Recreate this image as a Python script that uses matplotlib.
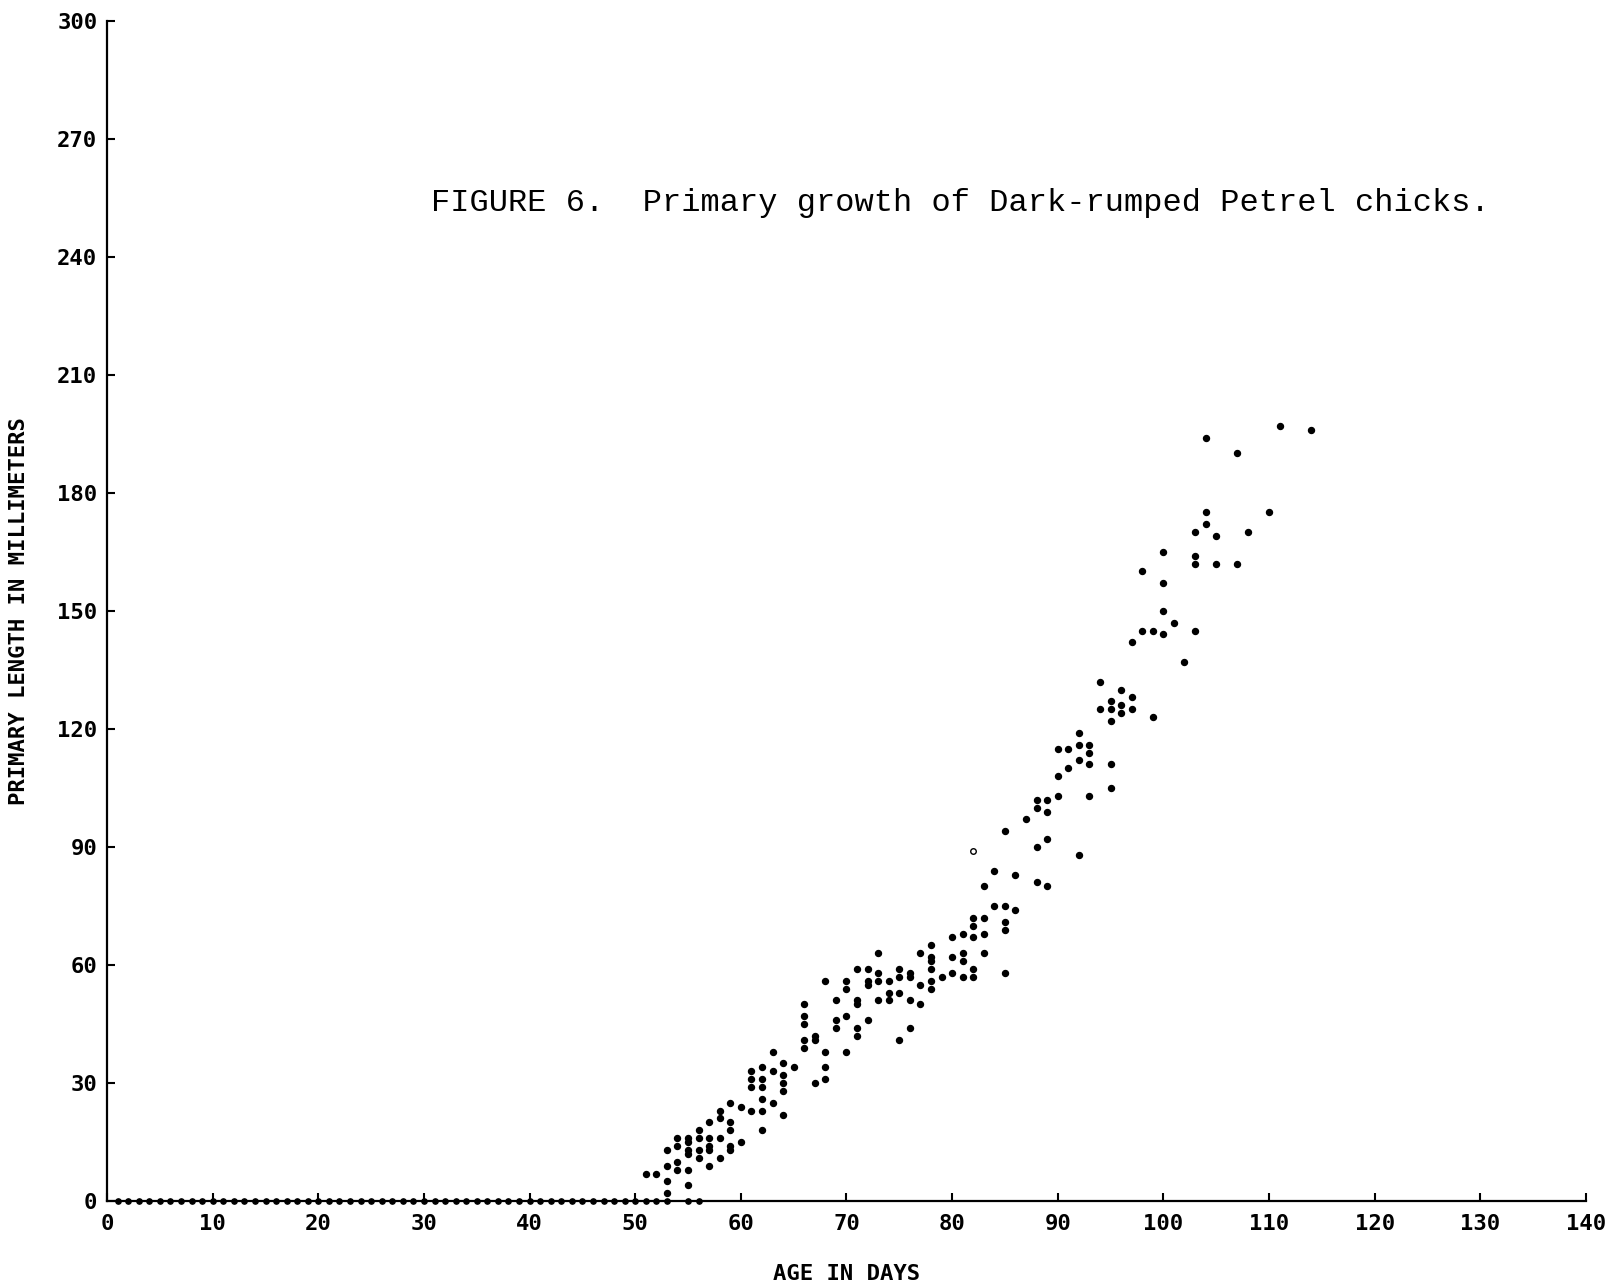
import matplotlib
matplotlib.use('Agg')

import matplotlib.pyplot as plt

# age in days -> primary length (mm) for each chick measured
growth = {
    51: [7], 52: [7],
    53: [13, 9, 5, 2],
    54: [16, 14, 10, 8],
    55: [16, 15, 13, 12, 8, 4],
    56: [18, 16, 13, 11],
    57: [20, 16, 14, 13, 9],
    58: [23, 21, 16, 11],
    59: [25, 20, 18, 14, 13],
    60: [24, 15],
    61: [33, 31, 29, 23],
    62: [34, 31, 29, 26, 23, 18],
    63: [38, 33, 25],
    64: [35, 32, 30, 28, 22],
    65: [34],
    66: [50, 47, 45, 41, 39],
    67: [42, 41, 30],
    68: [56, 38, 34, 31],
    69: [51, 46, 44],
    70: [56, 54, 47, 38],
    71: [59, 51, 50, 44, 42],
    72: [59, 56, 55, 46],
    73: [63, 58, 56, 51],
    74: [56, 53, 51],
    75: [59, 57, 53, 41],
    76: [58, 57, 51, 44],
    77: [63, 55, 50],
    78: [65, 62, 61, 59, 56, 54],
    79: [57],
    80: [67, 62, 58],
    81: [68, 63, 61, 57],
    82: [72, 70, 67, 59, 57],
    83: [80, 72, 68, 63],
    84: [84, 75],
    85: [94, 75, 71, 69, 58],
    86: [83, 74],
    87: [97],
    88: [102, 100, 90, 81],
    89: [102, 99, 92, 80],
    90: [115, 108, 103],
    91: [115, 110],
    92: [119, 116, 112, 88],
    93: [116, 114, 111, 103],
    94: [132, 125],
    95: [127, 125, 122, 111, 105],
    96: [130, 126, 124],
    97: [142, 128, 125],
    98: [160, 145],
    99: [145, 123],
    100: [165, 157, 150, 144],
    101: [147],
    102: [137],
    103: [170, 164, 162, 145],
    104: [194, 175, 172],
    105: [169, 162],
    107: [190, 162],
    108: [170],
    110: [175],
    111: [197],
    114: [196],
}

# chicks with no primaries yet
zero_days = list(range(1, 54)) + [55, 56]

# the one open circle on the original
open_x = [82]
open_y = [89]

ages = []
lengths = []
for d, vals in growth.items():
    for v in vals:
        ages.append(d)
        lengths.append(v)

lab_font = {'family': 'DejaVu Sans Mono', 'weight': 'bold', 'size': 16}

fig = plt.figure(figsize=(16.1, 12.86), dpi=100)
ax = fig.add_axes([0.0665, 0.066, 0.9185, 0.918])

ax.plot(ages, lengths, 'o', color='black', markersize=4.3, clip_on=False)
ax.plot(zero_days, [0] * len(zero_days), 'o', color='black', markersize=3.8, clip_on=False)
ax.plot(open_x, open_y, 'o', mfc='white', mec='black', markersize=4, mew=1)

ax.set_xlim(0, 140)
ax.set_ylim(0, 300)
ax.set_xticks(range(0, 141, 10))
ax.set_yticks(range(0, 301, 30))

for s in ['top', 'right']:
    ax.spines[s].set_visible(False)
for s in ['left', 'bottom']:
    ax.spines[s].set_linewidth(1.6)

ax.tick_params(direction='in', length=6, width=1.5)
ax.tick_params(axis='x', pad=9)
ax.tick_params(axis='y', pad=7)
for t in ax.get_xticklabels() + ax.get_yticklabels():
    t.set_fontfamily('DejaVu Sans Mono')
    t.set_fontweight('bold')
    t.set_fontsize(16)

ax.set_xlabel('AGE IN DAYS', fontdict=lab_font, labelpad=22)
ax.set_ylabel('PRIMARY LENGTH IN MILLIMETERS', fontdict=lab_font, labelpad=20)

fig.text(0.268, 0.842, 'FIGURE 6.  Primary growth of Dark-rumped Petrel chicks.',
         family='Liberation Mono', fontsize=23, va='center', ha='left')

plt.savefig('out.png')
